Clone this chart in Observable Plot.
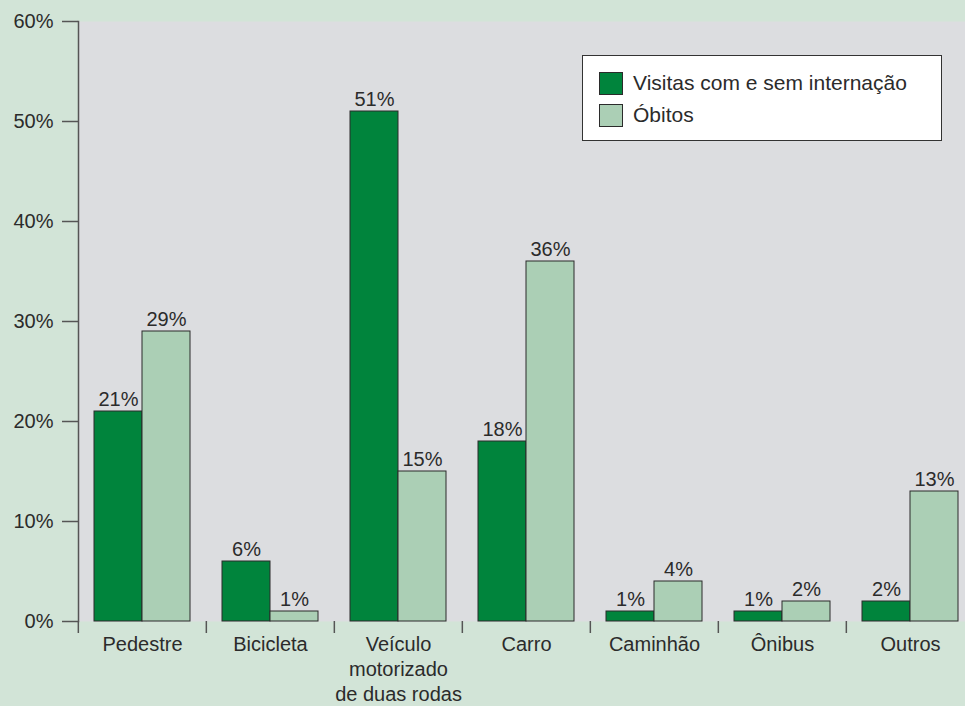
<!DOCTYPE html>
<html>
<head>
<meta charset="utf-8">
<script src="https://cdn.jsdelivr.net/npm/d3@7"></script>
<script src="https://cdn.jsdelivr.net/npm/@observablehq/plot@0.6"></script>
<style>
  html, body { margin: 0; padding: 0; background: #d2e4d7; }
  #wrap { position: relative; width: 965px; height: 706px; overflow: hidden; font-family: "Liberation Sans", Arial, sans-serif; }
  #legend { position: absolute; left: 582px; top: 55px; width: 358px; height: 84px; background: #fff; border: 1px solid #333; box-sizing: content-box; }
  .item { position: absolute; left: 16px; display: flex; align-items: center; font-size: 21px; color: #2b2b2b; }
  .sw { width: 22px; height: 21px; border: 1px solid #2b2b2b; margin-right: 10px; }
</style>
</head>
<body>
<div id="wrap"></div>
<script>
const categories = ["Pedestre", "Bicicleta", "Veículo\nmotorizado\nde duas rodas", "Carro", "Caminhão", "Ônibus", "Outros"];
const series = ["Visitas com e sem internação", "Óbitos"];
const visitas = [21, 6, 51, 18, 1, 1, 2];
const obitos = [29, 1, 15, 36, 4, 2, 13];
const yTicks = [0, 10, 20, 30, 40, 50, 60];
const colors = ["#00843c", "#abcfb5"];

const rows = [];
categories.forEach((c, i) => {
  rows.push({cat: c, series: series[0], value: visitas[i]});
  rows.push({cat: c, series: series[1], value: obitos[i]});
});

const W = 965, H = 706;
const fxRange = [77, 975.3];
const halfBand = (fxRange[1] - fxRange[0]) / categories.length / 2;

const chart = Plot.plot({
  width: W,
  height: H,
  marginLeft: 77,
  marginRight: 0,
  marginTop: 21,
  marginBottom: 85,
  style: {fontFamily: "Liberation Sans, Arial, sans-serif", fontSize: "20px", background: "transparent", color: "#2b2b2b"},
  fx: {domain: categories, range: fxRange, padding: 0, axis: null},
  x: {domain: series, paddingInner: 0, paddingOuter: 0.33, axis: null},
  y: {domain: [0, 60], label: null, axis: null},
  color: {domain: series, range: colors},
  marks: [
    Plot.frame({fill: "#dcdde0", facet: "super"}),
    Plot.barY(rows, {fx: "cat", x: "series", y: "value", fill: "series", stroke: "#2b2b2b", strokeWidth: 1}),
    Plot.text(rows, {fx: "cat", x: "series", y: "value", text: d => d.value + "%", lineAnchor: "bottom", dy: -6, fontSize: 20, fill: "#2b2b2b"}),
    Plot.axisY({ticks: yTicks, tickSize: 16, tickPadding: 9, tickFormat: d => d + "%", fontSize: 20, stroke: "#555", strokeWidth: 1.5, fill: "#2b2b2b", label: null}),
    Plot.frame({anchor: "left", facet: "super", stroke: "#555", strokeWidth: 1.5}),
    Plot.axisFx({anchor: "bottom", tickSize: 12, tickFormat: () => "", dx: -halfBand, stroke: "#555", strokeWidth: 1.5, label: null}),
    Plot.axisFx({anchor: "bottom", tickSize: 0, tickPadding: 12, lineHeight: 1.25, fontSize: 20, fill: "#2b2b2b", label: null})
  ]
});

const wrap = document.getElementById("wrap");
wrap.appendChild(chart);

const legend = document.createElement("div");
legend.id = "legend";
series.forEach((s, i) => {
  const item = document.createElement("div");
  item.className = "item";
  item.style.top = (15 + i * 32) + "px";
  const sw = document.createElement("span");
  sw.className = "sw";
  sw.style.background = colors[i];
  const t = document.createElement("span");
  t.textContent = s;
  item.appendChild(sw);
  item.appendChild(t);
  legend.appendChild(item);
});
wrap.appendChild(legend);
</script>
</body>
</html>
